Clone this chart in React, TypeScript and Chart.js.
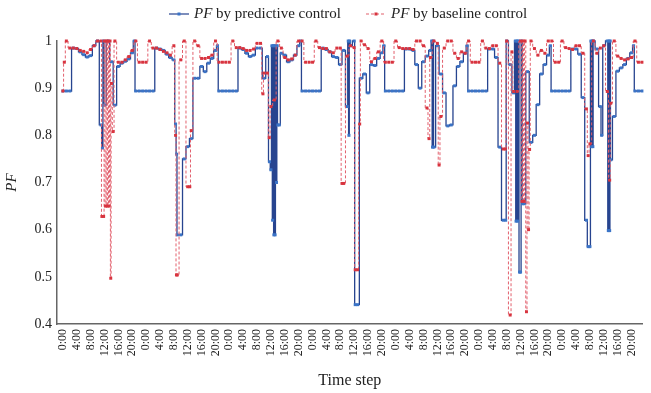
import React, { useEffect, useRef } from "react";
import { Chart, registerables } from "chart.js";

Chart.register(...registerables);

// Hourly power factor values, 7 days x 24 hours (hour 0 = 0:00 of day 1)
const predictiveDay1 = [0.894,0.894,0.894,0.985,0.984,0.977,0.971,0.966,0.969,0.99,1.0,0.822,0.864,1.0,0.956,0.864,0.946,0.953,0.957,0.962,0.975,0.894,0.894,0.894];
const predictiveDay2 = [0.894,0.894,0.894,0.985,0.983,0.98,0.972,0.965,0.96,0.589,0.589,0.75,0.776,0.793,0.921,0.921,0.946,0.935,0.953,0.963,0.98,0.894,0.894,0.894];
const predictiveDay3 = [0.894,0.894,0.894,0.985,0.982,0.974,0.967,0.97,0.985,0.985,0.921,0.967,0.727,0.99,0.822,0.974,0.97,0.956,0.96,0.97,0.99,0.894,0.894,0.894];
const predictiveDay4 = [0.894,0.894,0.894,0.985,0.982,0.977,0.967,0.965,0.95,0.98,0.861,0.99,1.0,0.441,0.921,0.93,0.89,0.95,0.948,0.963,0.975,0.894,0.894,0.894];
const predictiveDay5 = [0.894,0.894,0.894,0.983,0.983,0.98,0.95,0.9,0.956,0.968,0.98,0.775,0.99,0.93,0.89,0.82,0.822,0.905,0.946,0.956,0.974,0.894,0.894,0.894];
const predictiveDay6 = [0.894,0.894,0.894,0.983,0.983,0.965,0.775,0.62,1.0,0.95,0.89,1.0,0.51,0.655,0.935,0.785,0.8,0.865,0.93,0.95,0.97,0.894,0.894,0.894];
const predictiveDay7 = [0.894,0.894,0.894,0.983,0.983,0.972,0.88,0.62,0.564,1.0,0.983,0.861,0.99,1.0,0.748,0.84,0.936,0.943,0.95,0.963,0.975,0.894,0.894,0.894];

// Sub-hourly samples [hour, value] inside fast switching periods
const predictiveDetail: [number, number][] = [
  [11.4, 0.773], [11.7, 1.0], [20.6, 1.0],
  [32.5, 0.824], [32.8, 0.76], [44.6, 0.99],
  [59.6, 0.744], [60.3, 0.99], [60.5, 0.62], [60.7, 0.99], [60.85, 0.589],
  [61.2, 0.589], [61.4, 0.99], [61.6, 0.7], [61.8, 0.99], [62.4, 0.822], [68.6, 1.0],
  [82.3, 1.0], [82.5, 0.8], [82.7, 1.0], [84.3, 0.441], [92.6, 0.99],
  [106.4, 1.0], [106.6, 0.775], [106.8, 1.0], [116.6, 0.99],
  [127.7, 0.62], [130.5, 1.0], [130.7, 0.618], [131.2, 0.618], [131.4, 1.0], [131.7, 0.51],
  [132.3, 1.0], [132.6, 0.655], [140.6, 0.99],
  [151.5, 0.564], [152.3, 1.0], [152.5, 0.776], [152.7, 1.0], [152.85, 0.776],
  [155.4, 0.8], [157.3, 0.598], [157.5, 1.0], [157.7, 0.598], [157.85, 1.0], [164.6, 0.99],
];

const baselineDay1 = [0.894,1.0,0.985,0.985,0.984,0.98,0.978,0.975,0.982,0.99,1.0,1.0,1.0,1.0,0.91,1.0,0.955,0.955,0.96,0.967,0.98,1.0,0.955,0.955];
const baselineDay2 = [0.955,1.0,0.985,0.985,0.982,0.978,0.975,0.97,0.99,0.504,0.96,1.0,0.691,0.81,1.0,0.99,0.963,0.963,0.965,0.97,1.0,0.955,0.955,0.955];
const baselineDay3 = [0.955,1.0,0.986,0.986,0.984,0.98,0.98,0.983,0.995,0.995,0.932,0.932,0.861,0.875,1.0,0.985,0.965,0.96,0.962,0.97,1.0,1.0,0.955,0.955];
const baselineDay4 = [0.955,1.0,0.986,0.984,0.984,0.977,0.975,0.985,0.985,0.698,0.968,0.99,0.986,0.515,1.0,0.992,0.984,0.956,0.963,0.977,1.0,0.955,0.955,0.955];
const baselineDay5 = [1.0,0.986,0.984,0.984,0.984,0.982,1.0,1.0,0.99,0.858,0.965,1.0,0.995,0.84,0.985,1.0,1.0,0.974,0.963,0.977,0.974,1.0,0.955,0.955];
const baselineDay6 = [0.955,1.0,0.985,0.984,0.99,0.99,0.953,0.771,1.0,0.419,0.893,0.893,1.0,0.66,0.826,1.0,0.984,0.97,0.98,0.974,1.0,1.0,0.955,0.955];
const baselineDay7 = [1.0,0.986,0.984,0.982,0.99,0.99,0.974,0.856,0.782,1.0,0.974,0.985,0.99,0.893,0.868,1.0,0.968,0.963,0.96,0.962,0.965,1.0,0.955,0.955];

const baselineDetail: [number, number][] = [
  [0.4, 0.955],
  [11.25, 0.628], [11.75, 0.628], [12.3, 0.65], [12.6, 1.0], [12.8, 0.65], [13.3, 0.65], [13.6, 1.0], [13.8, 0.497], [14.5, 0.808],
  [32.5, 0.8], [32.75, 0.504], [36.6, 0.691],
  [57.7, 0.888], [59.5, 0.795],
  [80.5, 0.698], [84.3, 0.515], [85.6, 0.824],
  [105.6, 0.793], [108.5, 0.737],
  [127.6, 0.771], [129.5, 0.977],
  [132.4, 0.66], [132.7, 1.0], [133.3, 1.0], [133.7, 0.426], [134.3, 0.6], [134.6, 0.77],
  [151.5, 0.757], [157.7, 0.705],
];

const predictiveDays = [predictiveDay1, predictiveDay2, predictiveDay3, predictiveDay4, predictiveDay5, predictiveDay6, predictiveDay7];
const baselineDays = [baselineDay1, baselineDay2, baselineDay3, baselineDay4, baselineDay5, baselineDay6, baselineDay7];

const xTickStep = 4; // hours between tick labels
const yTicks = [0.4, 0.5, 0.6, 0.7, 0.8, 0.9, 1];

const legendLabels = ["by predictive control", "by baseline control"];

const BLUE_LINE = "#27448f";
const BLUE_MARK = "#3b74c7";
const RED_LINE = "#e2606d";
const RED_MARK = "#d8343f";
const FONT = "'Liberation Serif', 'Times New Roman', serif";

function buildSeries(days: number[][], detail: [number, number][]) {
  const pts: { x: number; y: number }[] = [];
  days.forEach((day, d) => day.forEach((v, i) => pts.push({ x: d * 24 + i, y: v })));
  detail.forEach(([x, y]) => pts.push({ x, y }));
  pts.sort((a, b) => a.x - b.x);
  return pts;
}

const legendPlugin = {
  id: "pfLegend",
  afterDraw(chart: any) {
    const ctx = chart.ctx as CanvasRenderingContext2D;
    const y = 14;
    const items = [
      { x: 169, line: BLUE_LINE, mark: BLUE_MARK, dash: [] as number[], text: legendLabels[0] },
      { x: 366, line: RED_LINE, mark: RED_MARK, dash: [3, 2], text: legendLabels[1] },
    ];
    ctx.save();
    items.forEach((it) => {
      ctx.setLineDash(it.dash);
      ctx.strokeStyle = it.line;
      ctx.lineWidth = 1.2;
      ctx.beginPath();
      ctx.moveTo(it.x, y);
      ctx.lineTo(it.x + 20, y);
      ctx.stroke();
      ctx.setLineDash([]);
      ctx.fillStyle = it.mark;
      ctx.fillRect(it.x + 8.5, y - 1.5, 3, 3);
      ctx.fillStyle = "#222";
      ctx.textBaseline = "middle";
      ctx.textAlign = "left";
      ctx.font = `italic 15px ${FONT}`;
      const tx = it.x + 25;
      ctx.fillText("PF", tx, y);
      const w = ctx.measureText("PF").width;
      ctx.font = `15px ${FONT}`;
      ctx.fillText(" " + it.text, tx + w, y);
    });
    ctx.restore();
  },
};

export default function App() {
  const ref = useRef<HTMLCanvasElement | null>(null);

  useEffect(() => {
    document.body.style.margin = "0";
    const canvas = ref.current;
    if (!canvas) return;
    const chart = new Chart(canvas, {
      type: "line",
      data: {
        datasets: [
          {
            label: "PF by predictive control",
            data: buildSeries(predictiveDays, predictiveDetail),
            borderColor: BLUE_LINE,
            borderWidth: 1.3,
            pointStyle: "rect",
            pointRadius: 2.1,
            pointBackgroundColor: BLUE_MARK,
            pointBorderColor: BLUE_MARK,
            pointBorderWidth: 0,
            stepped: "middle",
            clip: false as any,
            order: 2,
          },
          {
            label: "PF by baseline control",
            data: buildSeries(baselineDays, baselineDetail),
            borderColor: RED_LINE,
            borderWidth: 1,
            borderDash: [3, 2],
            pointStyle: "rect",
            pointRadius: 2.1,
            pointBackgroundColor: RED_MARK,
            pointBorderColor: RED_MARK,
            pointBorderWidth: 0,
            stepped: "middle",
            clip: false as any,
            order: 1,
          },
        ],
      },
      options: {
        animation: false,
        responsive: false,
        devicePixelRatio: 1,
        layout: { padding: { left: 0, right: 3, top: 41, bottom: 0 } },
        plugins: { legend: { display: false }, tooltip: { enabled: false } },
        scales: {
          x: {
            type: "linear",
            min: -1.7,
            max: 167.2,
            afterFit: (s: any) => { s.height = 69; },
            grid: { display: false, drawTicks: false },
            border: { display: true, color: "#666", width: 1.5 },
            ticks: {
              stepSize: xTickStep,
              includeBounds: false,
              autoSkip: false,
              maxRotation: 90,
              minRotation: 90,
              padding: 5,
              color: "#222",
              font: { family: FONT, size: 12 },
              callback: (v: any) => `${Number(v) % 24}:00`,
            },
            title: {
              display: true,
              text: "Time step",
              color: "#222",
              font: { family: FONT, size: 16 },
              padding: { top: 0, bottom: 3 },
            },
          },
          y: {
            min: yTicks[0],
            max: yTicks[yTicks.length - 1],
            afterFit: (s: any) => { s.width = 57; },
            grid: { display: false, drawTicks: false },
            border: { display: true, color: "#666", width: 1.5 },
            ticks: {
              stepSize: 0.1,
              padding: 5,
              color: "#222",
              font: { family: FONT, size: 14 },
              callback: (v: any) => String(parseFloat(Number(v).toFixed(1))),
            },
            title: {
              display: true,
              text: "PF",
              color: "#222",
              font: { family: FONT, size: 15, style: "italic" },
              padding: { top: 3, bottom: 0 },
            },
          },
        },
      },
      plugins: [legendPlugin],
    });
    return () => chart.destroy();
  }, []);

  return (
    <div style={{ width: 651, height: 393 }}>
      <canvas ref={ref} width={651} height={393} style={{ display: "block" }} />
    </div>
  );
}
